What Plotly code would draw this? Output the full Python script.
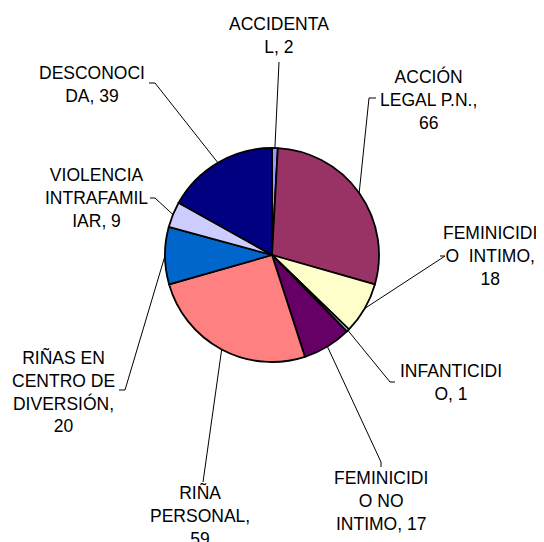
import math
import plotly.graph_objects as go

# categories and values, clockwise from 12 o'clock
categories = ["ACCIDENTAL", "ACCIÓN LEGAL P.N.", "FEMINICIDIO  INTIMO", "INFANTICIDIO",
              "FEMINICIDIO NO INTIMO", "RIÑA PERSONAL", "RIÑAS EN CENTRO DE DIVERSIÓN",
              "VIOLENCIA INTRAFAMILIAR", "DESCONOCIDA"]
values = [2, 66, 18, 1, 17, 59, 20, 9, 39]
# label text as wrapped in the original (value appended)
label_lines = ["ACCIDENTA<br>L, {}", "ACCIÓN<br>LEGAL P.N.,<br>{}", "FEMINICIDI<br>O  INTIMO,<br>{}",
               "INFANTICIDI<br>O, {}", "FEMINICIDI<br>O NO<br>INTIMO, {}", "RIÑA<br>PERSONAL,<br>{}",
               "RIÑAS EN<br>CENTRO DE<br>DIVERSIÓN,<br>{}", "VIOLENCIA<br>INTRAFAMIL<br>IAR, {}",
               "DESCONOCI<br>DA, {}"]
colors = ["#9999FF", "#993366", "#FFFFCC", "#CCFFFF", "#660066",
          "#FF8080", "#0066CC", "#CCCCFF", "#000080"]

# the page body has an 8px margin; work in window pixels
PAD = 8
W, H = 544 - PAD, 542 - PAD
cx, cy, r = 272, 255, 107   # pie centre / radius in window px

# label placement (window px): text centre, and leader end points (bend, tick end)
text_pos = [(279, 35), (428, 99), (490, 256), (451, 382), (381, 501),
            (200, 515), (63, 391), (96, 198), (92, 84)]
leader_pts = [[(279, 62)], [(369, 98), (376, 98)], [(445, 256), (440, 256)],
              [(390, 382), (395, 382)], [(381, 462), (381, 467)], [(203, 477), (203, 482)],
              [(125, 390), (119, 390)], [(155, 198), (150, 198)], [(155, 83), (149, 83)]]

fig = go.Figure()
fig.add_trace(go.Pie(
    labels=categories, values=values, sort=False, direction="clockwise", rotation=0,
    marker=dict(colors=colors, line=dict(color="black", width=1.8)),
    textinfo="none", hoverinfo="label+value", showlegend=False,
    domain=dict(x=[(cx - r - PAD) / W, (cx + r - PAD) / W],
                y=[1 - (cy + r - PAD) / H, 1 - (cy - r - PAD) / H]),
))

total = sum(values)
cum = 0
for v, txt, (tx, ty), pts in zip(values, label_lines, text_pos, leader_pts):
    mid = (cum + v / 2) / total * 2 * math.pi
    cum += v
    ex, ey = cx + r * math.sin(mid), cy - r * math.cos(mid)
    xs = [ex] + [p[0] for p in pts]
    ys = [ey] + [p[1] for p in pts]
    fig.add_trace(go.Scatter(x=xs, y=ys, mode="lines", line=dict(color="black", width=1),
                             hoverinfo="skip", showlegend=False))
    fig.add_annotation(x=tx, y=ty, xref="x", yref="y", text=txt.format(v), showarrow=False,
                       xanchor="center", yanchor="middle", align="center",
                       font=dict(family="Liberation Sans, Arial", size=17.5, color="black"))

fig.update_layout(
    width=W, height=H, margin=dict(l=0, r=0, t=0, b=0),
    paper_bgcolor="white", plot_bgcolor="white",
    xaxis=dict(range=[PAD, W + PAD], visible=False, fixedrange=True),
    yaxis=dict(range=[H + PAD, PAD], visible=False, fixedrange=True),
)
fig.write_html("out.html")
